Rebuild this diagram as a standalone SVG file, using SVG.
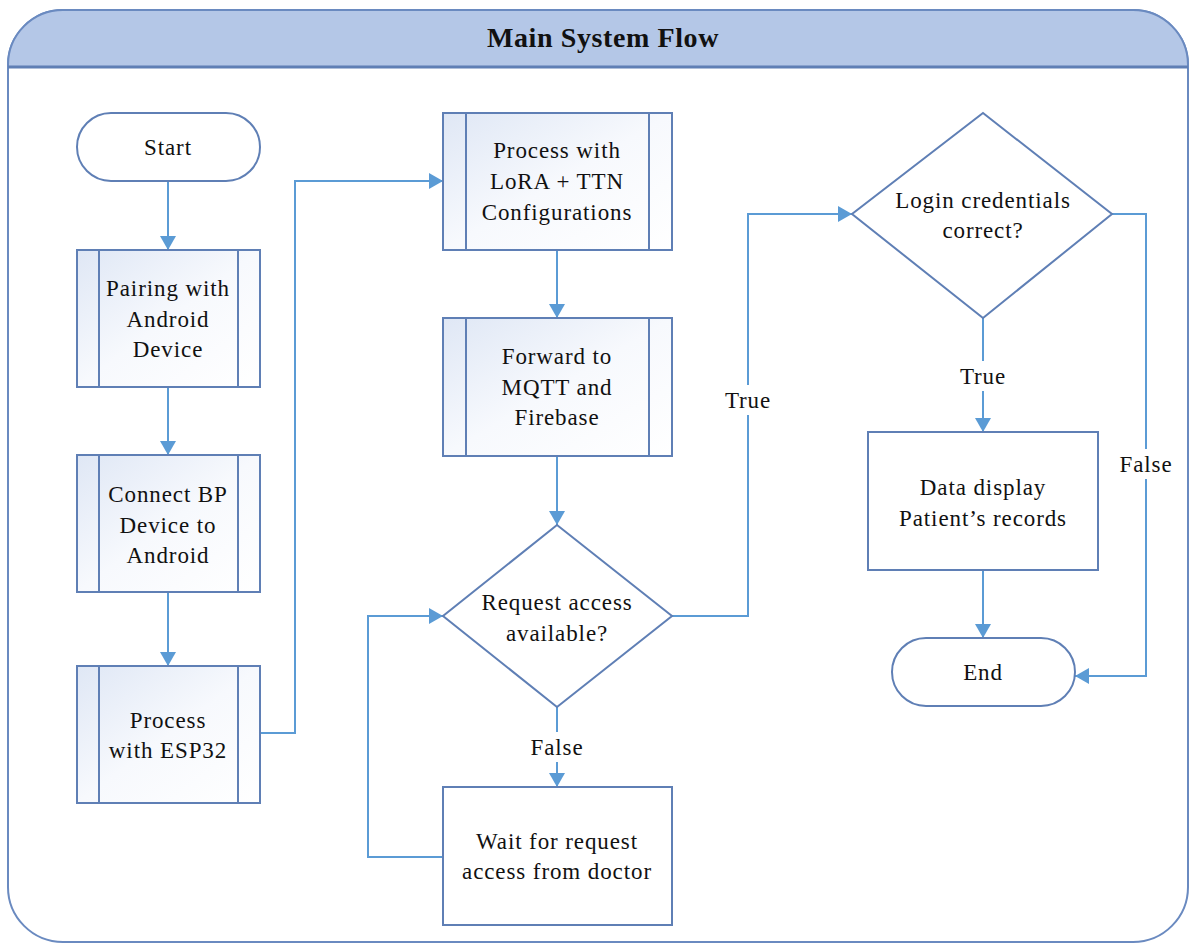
<svg xmlns="http://www.w3.org/2000/svg" width="1190" height="945" viewBox="0 0 1190 945">
<defs>
<style>
.box{fill:url(#pg);stroke:#5f7fb5;stroke-width:2}
.plain{fill:#ffffff;stroke:#5f7fb5;stroke-width:2}
.inner{stroke:#5f7fb5;stroke-width:2;fill:none}
.t{font-family:"Liberation Serif","Times New Roman",serif;font-size:23px;fill:#111;text-anchor:middle;letter-spacing:0.9px}
.title{font-family:"Liberation Serif","Times New Roman",serif;font-size:28px;font-weight:bold;fill:#111;text-anchor:middle;letter-spacing:0.6px}
.c{fill:none;stroke:#5b9bd5;stroke-width:2}
.lbl{fill:#ffffff;stroke:none}
</style>
<linearGradient id="pg" x1="0" y1="0" x2="1" y2="1">
<stop offset="0" stop-color="#dfe7f5"/>
<stop offset="0.5" stop-color="#f7f9fd"/>
<stop offset="1" stop-color="#ffffff"/>
</linearGradient>
<marker id="ah" markerWidth="16" markerHeight="16" refX="14" refY="8" orient="auto" markerUnits="userSpaceOnUse">
<path d="M0,0 L14,8 L0,16 Z" fill="#5b9bd5"/>
</marker>
</defs>

<g id="container">
<rect x="8" y="10" width="1180" height="932" rx="55" ry="55" fill="#ffffff" stroke="#6a8ac0" stroke-width="2"/>
<path d="M8,67 L8,65 A55,55 0 0 1 63,10 L1133,10 A55,55 0 0 1 1188,65 L1188,67 Z" fill="#b4c7e7" stroke="#6a8ac0" stroke-width="2"/>
<line x1="8" y1="67" x2="1188" y2="67" stroke="#5f7fb5" stroke-width="3"/>
<text class="title" x="603" y="47">Main System Flow</text>
</g>

<g id="connectors">
<line class="c" x1="168" y1="181" x2="168" y2="250" marker-end="url(#ah)"/>
<line class="c" x1="168" y1="387" x2="168" y2="455" marker-end="url(#ah)"/>
<line class="c" x1="168" y1="592" x2="168" y2="666" marker-end="url(#ah)"/>
<polyline class="c" points="260,733 295,733 295,181 443,181" marker-end="url(#ah)"/>
<line class="c" x1="557" y1="250" x2="557" y2="318" marker-end="url(#ah)"/>
<line class="c" x1="557" y1="456" x2="557" y2="525" marker-end="url(#ah)"/>
<line class="c" x1="557" y1="707" x2="557" y2="787" marker-end="url(#ah)"/>
<polyline class="c" points="443,857 368,857 368,616 443,616" marker-end="url(#ah)"/>
<polyline class="c" points="672,616 748,616 748,214 852,214" marker-end="url(#ah)"/>
<line class="c" x1="983" y1="318" x2="983" y2="432" marker-end="url(#ah)"/>
<line class="c" x1="983" y1="570" x2="983" y2="638" marker-end="url(#ah)"/>
<polyline class="c" points="1112,214 1146,214 1146,676 1075,676" marker-end="url(#ah)"/>
<rect class="lbl" x="526" y="732" width="62" height="30"/>
<text class="t" x="557" y="755">False</text>
<rect class="lbl" x="720" y="385" width="56" height="30"/>
<text class="t" x="748" y="408">True</text>
<rect class="lbl" x="955" y="361" width="56" height="30"/>
<text class="t" x="983" y="384">True</text>
<rect class="lbl" x="1115" y="449" width="62" height="30"/>
<text class="t" x="1146" y="472">False</text>
</g>

<g id="start">
<rect class="plain" x="77" y="113" width="183" height="68" rx="34" ry="34"/>
<text class="t" x="168" y="155">Start</text>
</g>

<g id="pairing">
<rect class="box" x="77" y="250" width="183" height="137"/>
<line class="inner" x1="99" y1="250" x2="99" y2="387"/>
<line class="inner" x1="238" y1="250" x2="238" y2="387"/>
<text class="t" x="168" y="296">Pairing with</text>
<text class="t" x="168" y="327">Android</text>
<text class="t" x="168" y="357">Device</text>
</g>

<g id="connect">
<rect class="box" x="77" y="455" width="183" height="137"/>
<line class="inner" x1="99" y1="455" x2="99" y2="592"/>
<line class="inner" x1="238" y1="455" x2="238" y2="592"/>
<text class="t" x="168" y="502">Connect BP</text>
<text class="t" x="168" y="533">Device to</text>
<text class="t" x="168" y="563">Android</text>
</g>

<g id="esp32">
<rect class="box" x="77" y="666" width="183" height="137"/>
<line class="inner" x1="99" y1="666" x2="99" y2="803"/>
<line class="inner" x1="238" y1="666" x2="238" y2="803"/>
<text class="t" x="168" y="728">Process</text>
<text class="t" x="168" y="758">with ESP32</text>
</g>

<g id="lora">
<rect class="box" x="443" y="113" width="229" height="137"/>
<line class="inner" x1="466" y1="113" x2="466" y2="250"/>
<line class="inner" x1="649" y1="113" x2="649" y2="250"/>
<text class="t" x="557" y="158">Process with</text>
<text class="t" x="557" y="189">LoRA + TTN</text>
<text class="t" x="557" y="220">Configurations</text>
</g>

<g id="forward">
<rect class="box" x="443" y="318" width="229" height="138"/>
<line class="inner" x1="466" y1="318" x2="466" y2="456"/>
<line class="inner" x1="649" y1="318" x2="649" y2="456"/>
<text class="t" x="557" y="364">Forward to</text>
<text class="t" x="557" y="395">MQTT and</text>
<text class="t" x="557" y="425">Firebase</text>
</g>

<g id="request">
<polygon class="plain" points="557,525 672,616 557,707 443,616"/>
<text class="t" x="557" y="610">Request access</text>
<text class="t" x="557" y="641">available?</text>
</g>

<g id="wait">
<rect class="plain" x="443" y="787" width="229" height="138"/>
<text class="t" x="557" y="849">Wait for request</text>
<text class="t" x="557" y="879">access from doctor</text>
</g>

<g id="login">
<polygon class="plain" points="983,113 1112,214 983,318 852,214"/>
<text class="t" x="983" y="208">Login credentials</text>
<text class="t" x="983" y="238">correct?</text>
</g>

<g id="data">
<rect class="plain" x="868" y="432" width="230" height="138"/>
<text class="t" x="983" y="495">Data display</text>
<text class="t" x="983" y="526">Patient’s records</text>
</g>

<g id="end">
<rect class="plain" x="892" y="638" width="183" height="68" rx="34" ry="34"/>
<text class="t" x="983" y="680">End</text>
</g>
</svg>
